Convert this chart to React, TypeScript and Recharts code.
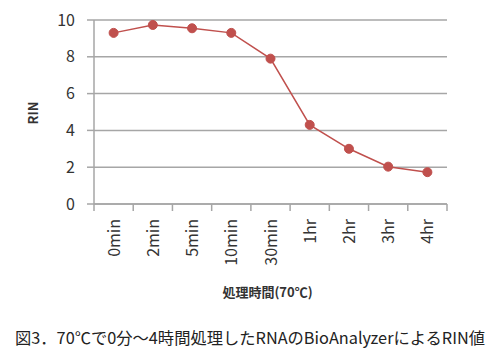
import React from 'react';
import { LineChart, Line, XAxis, YAxis, CartesianGrid } from 'recharts';

const categories = ['0min', '2min', '5min', '10min', '30min', '1hr', '2hr', '3hr', '4hr'];
const rinValues = [9.3, 9.73, 9.55, 9.3, 7.9, 4.3, 3.0, 2.03, 1.73];
const yTicks = [0, 2, 4, 6, 8, 10];

const data = categories.map((c, i) => ({ name: c, rin: rinValues[i] }));

const W = 501;
const H = 358;
const MARGIN = { top: 20, right: 54, left: 0, bottom: 0 };
const Y_WIDTH = 94;
const X_HEIGHT = 154;
const PLOT_W = W - MARGIN.left - MARGIN.right - Y_WIDTH;
const STEP = PLOT_W / categories.length;
const FONT = '"Noto Sans CJK JP", "Noto Sans", sans-serif';
const GRID = '#a6a6a6';
const RED = '#c0504d';

const XTick = (props: any) => {
  const { x, y, payload, index } = props;
  const left = x - STEP / 2;
  return (
    <g>
      <line x1={left} y1={y - 8} x2={left} y2={y - 1} stroke={GRID} strokeWidth={1.5} />
      {index === categories.length - 1 && (
        <line x1={x + STEP / 2} y1={y - 8} x2={x + STEP / 2} y2={y - 1} stroke={GRID} strokeWidth={1.5} />
      )}
      <text
        x={x + 6}
        y={y + 7}
        transform={`rotate(-90 ${x + 6} ${y + 7})`}
        textAnchor="end"
        fontSize={16}
        fontFamily={FONT}
        fill="#333"
      >
        {payload.value}
      </text>
    </g>
  );
};

export default function App() {
  return (
    <div style={{ position: 'absolute', left: 0, top: 0, width: W, height: H, background: '#fff' }}>
      <LineChart width={W} height={H} data={data} margin={MARGIN}>
        <CartesianGrid horizontal vertical={false} stroke={GRID} strokeWidth={1.5} />
        <XAxis
          dataKey="name"
          height={X_HEIGHT}
          padding={{ left: STEP / 2, right: STEP / 2 }}
          axisLine={{ stroke: GRID, strokeWidth: 1.5 }}
          tickLine={false}
          tick={<XTick />}
          interval={0}
          label={(p: any) => {
            const vb = p.viewBox;
            return (
              <text
                x={vb.x + vb.width / 2 - 3}
                y={297}
                textAnchor="middle"
                fontSize={13}
                fontWeight="bold"
                fontFamily={FONT}
                fill="#333"
              >
                処理時間(70℃)
              </text>
            );
          }}
        />
        <YAxis
          width={Y_WIDTH}
          domain={[0, 10]}
          ticks={yTicks}
          interval={0}
          axisLine={{ stroke: GRID, strokeWidth: 1.5 }}
          tickLine={{ stroke: GRID, strokeWidth: 1.5 }}
          tickSize={7}
          tickMargin={12}
          tick={{ fontSize: 16, fontFamily: FONT, fill: '#333' }}
          label={() => {
            const cy = 113;
            return (
              <text
                x={38}
                y={cy}
                transform={`rotate(-90 38 ${cy})`}
                textAnchor="middle"
                fontSize={13}
                fontWeight="bold"
                fontFamily={FONT}
                fill="#333"
              >
                RIN
              </text>
            );
          }}
        />
        <Line
          type="linear"
          dataKey="rin"
          stroke={RED}
          strokeWidth={1.5}
          dot={{ r: 4.5, fill: RED, stroke: RED, strokeWidth: 1 }}
          isAnimationActive={false}
        />
      </LineChart>
      <div
        style={{
          position: 'absolute',
          left: 15,
          top: 326,
          fontSize: 16.3,
          fontFamily: FONT,
          color: '#222',
          whiteSpace: 'nowrap',
          lineHeight: '22px',
        }}
      >
        図3．70℃で0分～4時間処理したRNAのBioAnalyzerによるRIN値
      </div>
    </div>
  );
}
